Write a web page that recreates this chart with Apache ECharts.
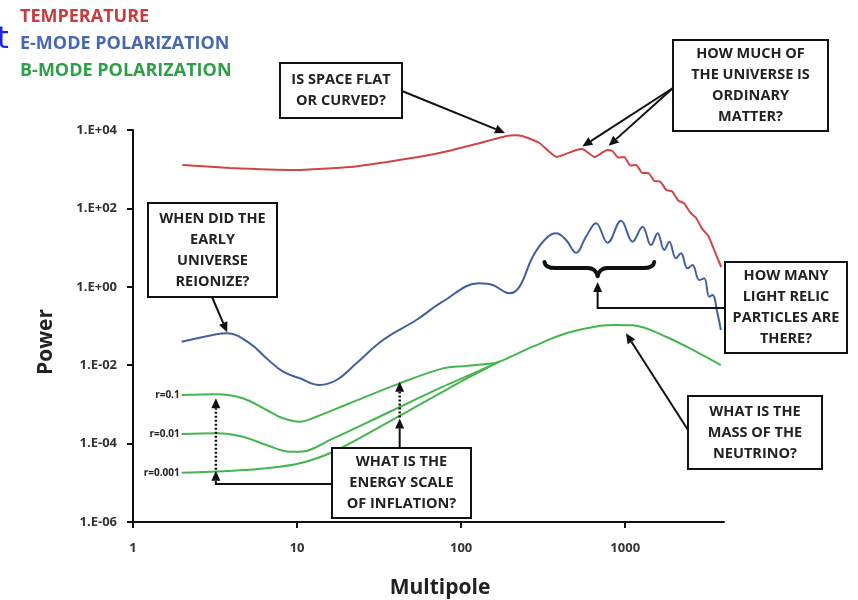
<!DOCTYPE html>
<html>
<head>
<meta charset="utf-8">
<script src="https://cdn.jsdelivr.net/npm/echarts@6/dist/echarts.min.js"></script>
<style>
  html, body { margin: 0; padding: 0; background: #fff; }
  #chart { width: 858px; height: 600px; }
</style>
</head>
<body>
<div id="chart"></div>
<script>
// Angular power spectra of the CMB: [multipole, power]
const temperature = [[2,1280],[3.9,1070],[9.8,955],[21,1140],[42,1720],[74,2590],[117,4140],[189,7000],[212,7300],[236,7000],[300,4660],[381,2050],[504,3090],[548,3275],[649,2050],[778,3090],[835,2910],[908,1990],[988,2050],[1074,1240],[1168,1280],[1271,800],[1382,800],[1503,500],[1635,486],[1779,295],[1935,270],[2105,159],[2289,133],[2490,79],[2709,57],[2946,30],[3205,20],[3486,8.7],[3846,3.2]];

const eMode = [[1.98,0.0398],[3.23,0.0614],[3.72,0.0652],[5.15,0.0362],[6.51,0.0150],[8.22,0.00683],[10.4,0.00463],[13.7,0.00313],[17.4,0.00419],[23,0.0112],[33.4,0.044],[53.3,0.142],[77.1,0.417],[129,1.23],[156,1.11],[197,0.682],[227,1.01],[273,5.86],[330,17.3],[379,23.2],[436,15.6],[502,7.41],[577,19],[664,41.7],[781,13.3],[943,48.5],[1109,14.2],[1276,34.1],[1436,11.6],[1575,23.2],[1730,8.69],[1855,14.2],[2038,5.33],[2186,7.16],[2398,2.96],[2572,3.6],[2825,1.49],[3030,1.65],[3250,0.559],[3403,0.618],[3650,0.211],[3828,0.0791]];

// B-mode for three tensor-to-scalar ratios; r=0.1 carries the shared lensing tail
const bMode01 = [[1.98,0.00174],[3.23,0.00181],[4.67,0.00143],[6.51,0.00072],[8.22,0.000442],[10.4,0.000362],[13.1,0.000485],[20.9,0.00107],[42.2,0.00345],[77.4,0.0083],[107,0.0096],[156,0.0112],[171,0.0123],[273,0.0297],[436,0.0652],[696,0.1],[879,0.106],[1109,0.104],[1772,0.0533],[2825,0.0201],[3828,0.0101]];
const bMode001 = [[1.98,0.000176],[3.23,0.000183],[4.67,0.00015],[6.51,0.000092],[9.03,0.000062],[10.4,0.000062],[16.6,0.000136],[33.4,0.000537],[77.4,0.00283],[107,0.00509],[171,0.0123]];
const bMode0001 = [[1.98,0.0000181],[4.08,0.0000204],[6.51,0.0000234],[10.4,0.0000314],[16.6,0.000062],[33.4,0.000298],[77.4,0.00211],[107,0.00445],[171,0.0123]];

const xTickValues = [1, 10, 100, 1000];
const xTickLabels = ['1', '10', '100', '1000'];
const rLabels = ['r=0.1', 'r=0.01', 'r=0.001'];

const RED = '#d04545', BLUE = '#41609f', GREEN = '#45b54f';
const FONT = '"Open Sans", "DejaVu Sans", sans-serif';

const chart = echarts.init(document.getElementById('chart'), null, { renderer: 'canvas' });

function lineSeries(name, data, color, smooth) {
  return {
    name, type: 'line', data, symbol: 'none', smooth,
    lineStyle: { color, width: 2 }, z: 2, animation: false
  };
}

chart.setOption({
  animation: false,
  backgroundColor: '#fff',
  grid: { left: 133, top: 130, right: 134, bottom: 78, containLabel: false },
  xAxis: {
    type: 'log', logBase: 10, min: 1, max: 4000,
    axisLine: { show: true, lineStyle: { color: '#111', width: 2 } },
    axisTick: { show: true, length: 6, customValues: xTickValues, lineStyle: { color: '#111', width: 2 } },
    splitLine: { show: false },
    axisLabel: {
      margin: 20, color: '#333', fontFamily: FONT, fontWeight: 'bold', fontSize: 13,
      formatter: v => {
        const e = Math.log10(v);
        return Math.abs(e - Math.round(e)) < 1e-6 ? xTickLabels[Math.round(e)] || '' : '';
      }
    }
  },
  yAxis: {
    type: 'log', logBase: 10, min: 1e-6, max: 1e4, interval: 2,
    axisLine: { show: true, lineStyle: { color: '#111', width: 2 } },
    axisTick: { show: true, length: 6, lineStyle: { color: '#111', width: 2 } },
    splitLine: { show: false },
    axisLabel: {
      margin: 16, color: '#333', fontFamily: FONT, fontWeight: 'bold', fontSize: 13,
      formatter: v => {
        const e = Math.round(Math.log10(v));
        const s = e < 0 ? '-' : '+';
        const a = Math.abs(e);
        return '1.E' + s + (a < 10 ? '0' + a : a);
      }
    }
  },
  series: [
    lineSeries('Temperature', temperature, RED, 0.15),
    lineSeries('E-mode', eMode, BLUE, 0.4),
    lineSeries('B-mode r=0.1', bMode01, GREEN, 0.35),
    lineSeries('B-mode r=0.01', bMode001, GREEN, 0.35),
    lineSeries('B-mode r=0.001', bMode0001, GREEN, 0.35)
  ]
});

// ---- annotations ----
const px = p => chart.convertToPixel({ xAxisIndex: 0, yAxisIndex: 0 }, p);
const INK = '#111';

function arrowHead(from, to) {
  const dx = to[0] - from[0], dy = to[1] - from[1];
  const len = Math.hypot(dx, dy), ux = dx / len, uy = dy / len;
  const L = 10, W = 4.5;
  const b = [to[0] - ux * L, to[1] - uy * L];
  return {
    base: b,
    el: { type: 'polygon', z: 100, shape: { points: [to, [b[0] - uy * W, b[1] + ux * W], [b[0] + uy * W, b[1] - ux * W]] }, style: { fill: INK } }
  };
}
function arrow(points, dashed) {
  const n = points.length;
  const h = arrowHead(points[n - 2], points[n - 1]);
  const pts = points.slice(0, n - 1).concat([h.base]);
  return [
    { type: 'polyline', z: 100, shape: { points: pts }, style: { stroke: INK, lineWidth: dashed ? 2.5 : 2, lineDash: dashed ? [2, 2] : null, fill: null } },
    h.el
  ];
}
function box(x, y, w, h, lines) {
  return [
    { type: 'rect', z: 100, shape: { x, y, width: w, height: h }, style: { fill: '#fff', stroke: INK, lineWidth: 2 } },
    { type: 'text', z: 101, x: x + w / 2, y: y + h / 2,
      style: { text: lines.join('\n'), fill: '#222', font: 'bold 14.5px ' + FONT, align: 'center', verticalAlign: 'middle', lineHeight: 21 } }
  ];
}
function quad(p0, c, p1, w) {
  return { type: 'bezierCurve', z: 100, shape: { x1: p0[0], y1: p0[1], cpx1: c[0], cpy1: c[1], x2: p1[0], y2: p1[1] },
    style: { stroke: INK, lineWidth: w, fill: null, lineCap: 'round' } };
}
function seg(p0, p1, w) {
  return { type: 'line', z: 100, shape: { x1: p0[0], y1: p0[1], x2: p1[0], y2: p1[1] }, style: { stroke: INK, lineWidth: w, lineCap: 'round' } };
}

const g = [];

// legend words
g.push({ type: 'text', z: 100, x: -3, y: 40, style: { text: 't', fill: '#2222ee', font: '30px "DejaVu Sans", sans-serif', verticalAlign: 'middle' } });
[['TEMPERATURE', '#c83c3c', 17], ['E-MODE POLARIZATION', '#4668b0', 44], ['B-MODE POLARIZATION', '#2e9e48', 71]].forEach(([t, c, y]) => {
  g.push({ type: 'text', z: 100, x: 20, y, style: { text: t, fill: c, font: 'bold 18px ' + FONT, verticalAlign: 'middle' } });
});

// axis titles
g.push({ type: 'text', z: 100, x: 440, y: 588, style: { text: 'Multipole', fill: '#222', font: 'bold 21px ' + FONT, align: 'center', verticalAlign: 'middle' } });
g.push({ type: 'text', z: 100, x: 46, y: 342, rotation: Math.PI / 2, style: { text: 'Power', fill: '#222', font: 'bold 21px ' + FONT, align: 'center', verticalAlign: 'middle' } });

// r labels at the start of each B-mode curve
[bMode01, bMode001, bMode0001].forEach((d, i) => {
  const p = px(d[0]);
  g.push({ type: 'text', z: 100, x: p[0] - 2, y: p[1], style: { text: rLabels[i], fill: '#222', font: 'bold 10px ' + FONT, align: 'right', verticalAlign: 'middle' } });
});

// Is space flat or curved?
g.push(...box(280, 63, 122, 55, ['IS SPACE FLAT', 'OR CURVED?']));
g.push(...arrow([[402, 91], px([185, 8400])]));

// Ordinary matter
g.push(...box(673, 40, 155, 91, ['HOW MUCH OF', 'THE UNIVERSE IS', 'ORDINARY', 'MATTER?']));
g.push(...arrow([[673, 88], px([548, 3800])]));
g.push(...arrow([[673, 88], px([793, 3950])]));

// Reionization
g.push(...box(148, 203, 129, 94, ['WHEN DID THE', 'EARLY', 'UNIVERSE', 'REIONIZE?']));
g.push(...arrow([[212, 297], px([3.75, 0.069])]));

// Light relic particles: brace under the E-mode acoustic peaks
const bl = px([322, 3]), br = px([1503, 3]), bc = px([679, 3]);
const by = bl[1];
const BW = 4;
g.push(quad([bl[0], by - 6], [bl[0] + 1, by], [bl[0] + 11, by], BW));
g.push(seg([bl[0] + 11, by], [bc[0] - 10, by], BW));
g.push(quad([bc[0] - 10, by], [bc[0] - 2, by], [bc[0], by + 8], BW));
g.push(quad([bc[0], by + 8], [bc[0] + 2, by], [bc[0] + 10, by], BW));
g.push(seg([bc[0] + 10, by], [br[0] - 11, by], BW));
g.push(quad([br[0] - 11, by], [br[0] - 1, by], [br[0], by - 6], BW));
g.push(...box(725, 262, 122, 91, ['HOW MANY', 'LIGHT RELIC', 'PARTICLES ARE', 'THERE?']));
g.push(...arrow([[725, 308], [bc[0], 308], [bc[0], by + 14]]));

// Neutrino mass
g.push(...box(688, 396, 134, 73, ['WHAT IS THE', 'MASS OF THE', 'NEUTRINO?']));
g.push(...arrow([[688, 430], px([1011, 0.065])]));

// Energy scale of inflation
const fr0 = px([42.2, 0.00044]), fr1 = px([42.2, 0.0038]);
const fl0 = px([3.2, 0.0000204]), fl1 = px([3.2, 0.00143]);
g.push(...box(332, 448, 139, 70, ['WHAT IS THE', 'ENERGY SCALE', 'OF INFLATION?']));
g.push(...arrow([[fr0[0], 448], fr0]));
g.push(...arrow([[fr0[0], fr0[1] - 1], fr1], true));
g.push(...arrow([[332, 484], [fl0[0], 484], fl0]));
g.push(...arrow([[fl0[0], fl0[1] - 1], fl1], true));

chart.setOption({ graphic: { elements: g } });
</script>
</body>
</html>
